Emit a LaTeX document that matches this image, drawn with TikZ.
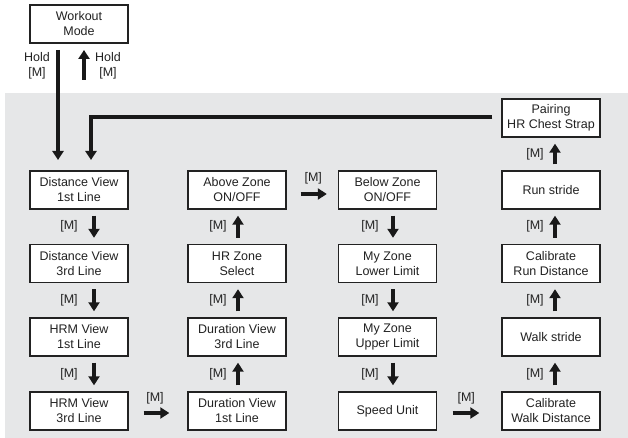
\documentclass[tikz,border=0pt]{standalone}
\usepackage{fontspec}
\setmainfont{Liberation Sans}
\usetikzlibrary{arrows.meta,calc}
\definecolor{bggrey}{HTML}{E6E7E8}
\definecolor{ink}{HTML}{222222}
\begin{document}
\begin{tikzpicture}[x=1pt,y=-1pt,
  font=\fontsize{12.5}{15}\selectfont,
  box/.style={draw=ink,fill=white,line width=1.4pt,minimum width=98pt,minimum height=38pt,
    inner sep=0pt,align=center,text=ink},
  lbl/.style={text=ink,inner sep=0pt,align=center},
  arr/.style={draw=black!90,line width=3.2pt,-{Triangle[length=9pt,width=11pt]}}]
\useasboundingbox (0,0) rectangle (628,438);
\fill[bggrey] (5,93) rectangle (628,438);
% boxes
\node[box] (wm) at (79,24) {Workout\\Mode};
\node[box] (d1) at (79,190) {Distance View\\1st Line};
\node[box] (d3) at (79,263.5) {Distance View\\3rd Line};
\node[box] (h1) at (79,337) {HRM View\\1st Line};
\node[box] (h3) at (79,411) {HRM View\\3rd Line};
\node[box] (az) at (237,190) {Above Zone\\ON/OFF};
\node[box] (hz) at (237,263.5) {HR Zone\\Select};
\node[box] (u3) at (237,337) {Duration View\\3rd Line};
\node[box] (u1) at (237,411) {Duration View\\1st Line};
\node[box] (bz) at (387.5,190) {Below Zone\\ON/OFF};
\node[box] (ml) at (387.5,263.5) {My Zone\\Lower Limit};
\node[box] (mu) at (387.5,337) {My Zone\\Upper Limit};
\node[box] (su) at (387.5,411) {Speed Unit};
\node[box] (pr) at (551,118) {Pairing\\HR Chest Strap};
\node[box] (rs) at (551,190) {Run stride};
\node[box] (cr) at (551,263.5) {Calibrate\\Run Distance};
\node[box] (ws) at (551,337) {Walk stride};
\node[box] (cw) at (551,411) {Calibrate\\Walk Distance};
% top connectors
\coordinate (t1) at (58,50);
\coordinate (t2) at (58,160);
\draw[arr] (t1) -- (t2);
\coordinate (t3) at (84,80);
\coordinate (t4) at (84,50);
\draw[arr] (t3) -- (t4);
\node[lbl] (hl) at (37,65.5) {Hold\\{[M]}};
\node[lbl] (hr) at (108,65.5) {Hold\\{[M]}};
\coordinate (p0) at ($(pr.west)+(-9,-1)$);
\coordinate (p1) at (91,160);
\draw[arr] (p0) -| (p1);
% vertical arrows: column 1 (down)
\foreach \a/\b/\n in {d1/d3/a, d3/h1/b, h1/h3/c}{
  \draw[arr] ($(\a.south)+(15,6)$) -- ($(\b.north)+(15,-6)$);
  \node[lbl] (m1\n) at ($(\a.south)!0.5!(\b.north)+(-10,0)$) {[M]};
}
% column 2 (up)
\foreach \a/\b/\n in {u1/u3/a, u3/hz/b, hz/az/c}{
  \draw[arr] ($(\a.north)+(1,-6)$) -- ($(\b.south)+(1,6)$);
  \node[lbl] (m2\n) at ($(\a.north)!0.5!(\b.south)+(-19,0)$) {[M]};
}
% column 3 (down)
\foreach \a/\b/\n in {bz/ml/a, ml/mu/b, mu/su/c}{
  \draw[arr] ($(\a.south)+(5.5,6)$) -- ($(\b.north)+(5.5,-6)$);
  \node[lbl] (m3\n) at ($(\a.south)!0.5!(\b.north)+(-17.5,0)$) {[M]};
}
% column 4 (up)
\foreach \a/\b/\n in {cw/ws/a, ws/cr/b, cr/rs/c, rs/pr/d}{
  \draw[arr] ($(\a.north)+(4,-6)$) -- ($(\b.south)+(4,6)$);
  \node[lbl] (m4\n) at ($(\a.north)!0.5!(\b.south)+(-16,0)$) {[M]};
}
% horizontal arrows
\draw[arr] ($(h3.east)+(15,2)$) -- ($(u1.west)+(-18,2)$);
\node[lbl] at ($(h3.east)!0.5!(u1.west)+(-3,-13)$) {[M]};
\draw[arr] ($(az.east)+(14,4)$) -- ($(bz.west)+(-11,4)$);
\node[lbl] at ($(az.east)!0.5!(bz.west)+(1,-12)$) {[M]};
\draw[arr] ($(su.east)+(15.5,2)$) -- ($(cw.west)+(-22,2)$);
\node[lbl] at ($(su.east)!0.5!(cw.west)+(-3,-13)$) {[M]};
\end{tikzpicture}
\end{document}
